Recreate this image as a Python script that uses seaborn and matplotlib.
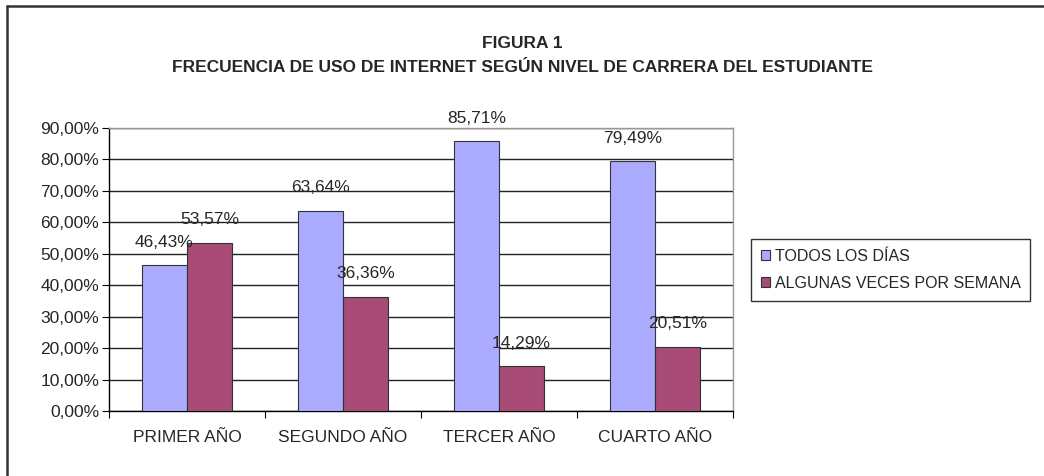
import pandas as pd
import matplotlib
matplotlib.use('Agg')
import matplotlib.pyplot as plt
import seaborn as sns
from matplotlib.lines import Line2D
from matplotlib.ticker import FixedLocator

# data
niveles = ['PRIMER AÑO', 'SEGUNDO AÑO', 'TERCER AÑO', 'CUARTO AÑO']
todos_los_dias = [46.43, 63.64, 85.71, 79.49]
algunas_veces = [53.57, 36.36, 14.29, 20.51]
series = ['TODOS LOS DÍAS', 'ALGUNAS VECES POR SEMANA']
colores = ['#AAAAFF', '#A84B76']

df = pd.DataFrame({
    'nivel': niveles * 2,
    'serie': [series[0]] * 4 + [series[1]] * 4,
    'valor': todos_los_dias + algunas_veces,
})

sns.set_style('white')
plt.rcParams['font.family'] = ['Liberation Sans', 'DejaVu Sans']
fs = 12.5

fig = plt.figure(figsize=(10.44, 4.76), dpi=100)
ax = fig.add_axes([109 / 1044, 1 - 411 / 476, 624 / 1044, 283 / 476])

sns.barplot(data=df, x='nivel', y='valor', hue='serie', palette=colores,
            width=0.577, gap=0, edgecolor='#333333', linewidth=0.8,
            saturation=1, ax=ax, legend=False, zorder=3)

ax.set_ylim(0, 90)
ax.set_xlim(-0.5, 3.5)
ax.set_yticks(range(0, 91, 10))
ax.set_yticklabels([f'{v},00%' for v in range(0, 91, 10)], fontsize=fs)
ax.yaxis.grid(True, color='#222222', linewidth=1)
ax.set_axisbelow(True)

# category boundaries as major ticks, labels on minor ticks
ax.xaxis.set_major_locator(FixedLocator([-0.5, 0.5, 1.5, 2.5, 3.5]))
ax.xaxis.set_minor_locator(FixedLocator([0, 1, 2, 3]))
ax.set_xticklabels([], minor=False)
ax.set_xticklabels(niveles, minor=True, fontsize=fs)
ax.tick_params(axis='x', which='major', length=5, color='black', direction='out', bottom=True)
ax.tick_params(axis='x', which='minor', length=0, pad=14)
ax.tick_params(axis='y', length=5, color='black', direction='out', left=True, pad=2)
ax.set_xlabel('')
ax.set_ylabel('')

for s in ['left', 'bottom']:
    ax.spines[s].set_color('black')
    ax.spines[s].set_linewidth(1)
for s in ['top', 'right']:
    ax.spines[s].set_color('#999999')
    ax.spines[s].set_linewidth(1)

# data labels
for cont in ax.containers:
    for bar in cont:
        h = bar.get_height()
        ax.annotate(f'{h:.2f}'.replace('.', ',') + '%',
                    (bar.get_x() + bar.get_width() / 2, h),
                    xytext=(0, 23), textcoords='offset pixels',
                    ha='center', va='center', fontsize=fs, zorder=5)

# legend
handles = [plt.Rectangle((0, 0), 1, 1, facecolor=c, edgecolor='#333333', linewidth=0.8)
           for c in colores]
leg = fig.legend(handles, series, loc='center left', bbox_to_anchor=(751 / 1044, 1 - 270 / 476),
                 frameon=True, fancybox=False, edgecolor='black', fontsize=11.5,
                 handlelength=0.6, handleheight=0.6, handletextpad=0.3,
                 borderpad=0.6, labelspacing=0.75, borderaxespad=0)
leg.get_frame().set_linewidth(1)

# titles
fig.text(0.5, 1 - 43 / 476, 'FIGURA 1', ha='center', va='center',
         fontsize=fs, fontweight='bold')
fig.text(0.5, 1 - 68 / 476,
         'FRECUENCIA DE USO DE INTERNET SEGÚN NIVEL DE CARRERA DEL ESTUDIANTE',
         ha='center', va='center', fontsize=fs, fontweight='bold')

# chart frame (top and left edges visible)
fig.add_artist(Line2D([7 / 1044, 7 / 1044], [0, 1 - 6 / 476], color='#333333', linewidth=1.8))
fig.add_artist(Line2D([7 / 1044, 1], [1 - 6 / 476, 1 - 6 / 476], color='#333333', linewidth=1.8))

fig.savefig('out.png', dpi=100)
